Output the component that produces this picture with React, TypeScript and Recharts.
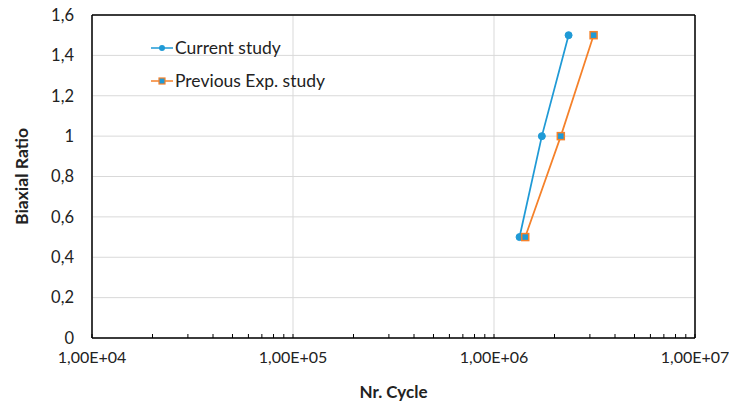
import React from 'react'
import {
  LineChart,
  Line,
  XAxis,
  YAxis,
  CartesianGrid,
  Legend,
} from 'recharts'

// values
const currentCycles = [1.34e6, 1.73e6, 2.35e6]
const currentRatios = [0.5, 1, 1.5]
const previousCycles = [1.43e6, 2.15e6, 3.13e6]
const previousRatios = [0.5, 1, 1.5]

const xMajorTicks = [1e4, 1e5, 1e6, 1e7]
const xMinorTicks = [
  2e4, 3e4, 4e4, 5e4, 6e4, 7e4, 8e4, 9e4,
  2e5, 3e5, 4e5, 5e5, 6e5, 7e5, 8e5, 9e5,
  2e6, 3e6, 4e6, 5e6, 6e6, 7e6, 8e6, 9e6,
]
const yTicks = [0, 0.2, 0.4, 0.6, 0.8, 1, 1.2, 1.4, 1.6]

const BLUE = '#1f9ad6'
const ORANGE = '#f5812a'
const FONT = 'Lato, "Open Sans", sans-serif'

const currentData = currentCycles.map((x, i) => ({ x, y: currentRatios[i] }))
const previousData = previousCycles.map((x, i) => ({ x, y: previousRatios[i] }))
const allXTicks = [...xMajorTicks, ...xMinorTicks].sort((a, b) => a - b)

function sciComma(v: number) {
  if (!xMajorTicks.includes(v)) return ''
  const e = Math.floor(Math.log10(v) + 1e-9)
  const m = (v / Math.pow(10, e)).toFixed(2).replace('.', ',')
  return `${m}E+${String(e).padStart(2, '0')}`
}

function ratioLabel(v: number) {
  return String(Math.round(v * 10) / 10).replace('.', ',')
}

function SquareDot(props: any) {
  const { cx, cy } = props
  if (cx == null || cy == null) return <g />
  return (
    <rect x={cx - 3.5} y={cy - 3.5} width={7} height={7} fill={BLUE} stroke={ORANGE} strokeWidth={1.5} />
  )
}

function LegendBox() {
  const items = [
    { name: 'Current study', color: BLUE, square: false },
    { name: 'Previous Exp. study', color: ORANGE, square: true },
  ]
  return (
    <div style={{ fontFamily: FONT, fontSize: 17.5, color: '#222' }}>
      {items.map((it) => (
        <div key={it.name} style={{ display: 'flex', alignItems: 'center', height: 33 }}>
          <svg width={22} height={10} style={{ marginRight: 2 }}>
            <line x1={0} y1={5} x2={22} y2={5} stroke={it.color} strokeWidth={1.5} />
            {it.square ? (
              <rect x={8} y={2} width={6} height={6} fill={BLUE} stroke={ORANGE} strokeWidth={1.2} />
            ) : (
              <circle cx={11} cy={5} r={3} fill={BLUE} />
            )}
          </svg>
          <span>{it.name}</span>
        </div>
      ))}
    </div>
  )
}

export default function App() {
  return (
    <div style={{ position: 'absolute', left: 0, top: 0, width: 729, height: 403, background: '#fff' }}>
      <LineChart width={729} height={403} margin={{ top: 14, right: 33, left: 0, bottom: 0 }}>
        <CartesianGrid stroke="#d9d9d9" vertical horizontal xAxisId="top" />
        <XAxis
          dataKey="x"
          type="number"
          scale="log"
          domain={[1e4, 1e7]}
          allowDataOverflow
          ticks={allXTicks}
          interval={0}
          tickFormatter={sciComma}
          height={65}
          tickSize={-4}
          tickMargin={18}
          tickLine={{ stroke: '#000', strokeWidth: 1 }}
          axisLine={{ stroke: '#000', strokeWidth: 1.5 }}
          tick={{ fill: '#222', fontSize: 16, fontFamily: FONT }}
          label={{
            value: 'Nr. Cycle',
            position: 'insideBottom',
            offset: 5,
            style: { fill: '#222', fontSize: 17, fontWeight: 700, fontFamily: FONT },
          }}
        />
        <XAxis
          xAxisId="top"
          orientation="top"
          dataKey="x"
          type="number"
          scale="log"
          domain={[1e4, 1e7]}
          allowDataOverflow
          ticks={xMajorTicks}
          interval={0}
          height={1}
          tick={() => <g />}
          tickLine={false}
          axisLine={{ stroke: '#000', strokeWidth: 1.5 }}
        />
        <YAxis
          type="number"
          domain={[0, 1.6]}
          ticks={yTicks}
          tickFormatter={ratioLabel}
          width={92}
          tickLine={false}
          tickSize={0}
          tickMargin={18}
          axisLine={{ stroke: '#000', strokeWidth: 1.5 }}
          tick={{ fill: '#222', fontSize: 16.5, fontFamily: FONT }}
          label={{
            value: 'Biaxial Ratio',
            angle: -90,
            position: 'insideLeft',
            offset: 22,
            style: { fill: '#222', fontSize: 17.5, fontWeight: 700, fontFamily: FONT, textAnchor: 'middle' },
          }}
        />
        <YAxis
          yAxisId="right"
          orientation="right"
          type="number"
          domain={[0, 1.6]}
          width={1}
          tick={false}
          tickLine={false}
          axisLine={{ stroke: '#000', strokeWidth: 1.5 }}
        />
        <Legend
          layout="vertical"
          align="center"
          verticalAlign="middle"
          content={() => <LegendBox />}
          wrapperStyle={{ left: 151, top: 31, width: 'auto' }}
        />
        <Line
          data={currentData}
          dataKey="y"
          name="Current study"
          stroke={BLUE}
          strokeWidth={1.75}
          dot={{ r: 3.5, fill: BLUE, stroke: BLUE, strokeWidth: 1 }}
          isAnimationActive={false}
        />
        <Line
          data={previousData}
          dataKey="y"
          name="Previous Exp. study"
          stroke={ORANGE}
          strokeWidth={1.75}
          dot={<SquareDot />}
          isAnimationActive={false}
        />
      </LineChart>
    </div>
  )
}
